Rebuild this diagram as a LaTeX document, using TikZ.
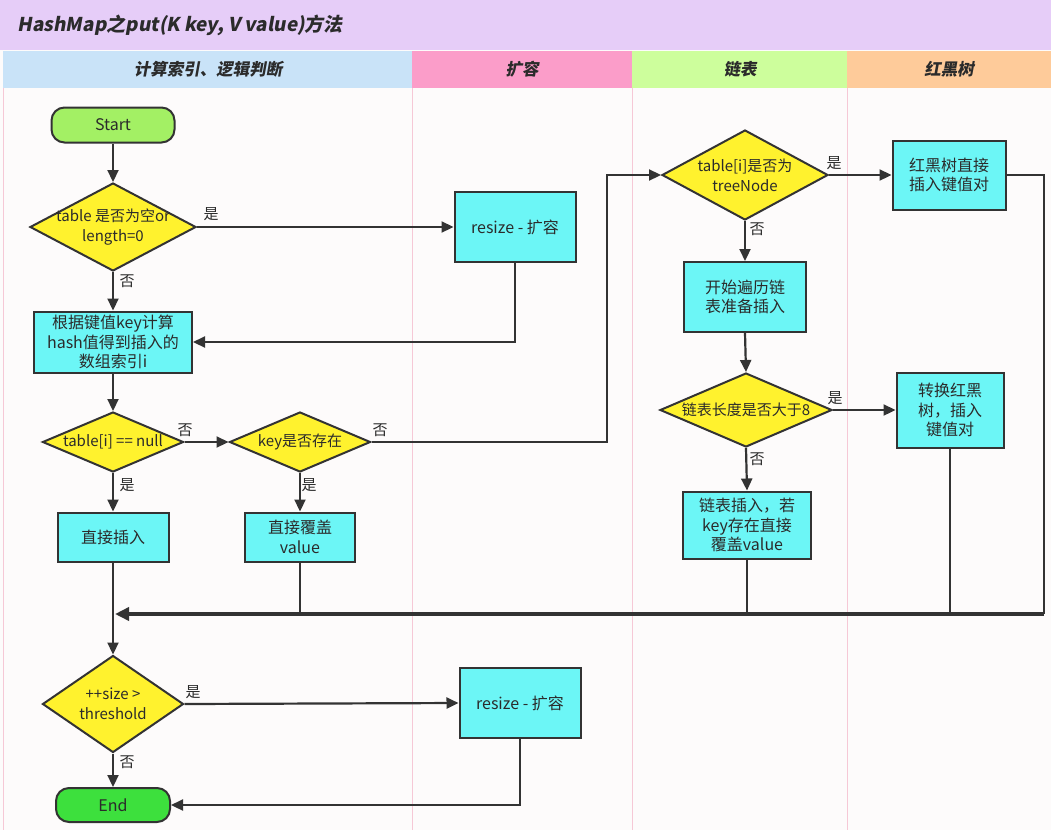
\documentclass[tikz,border=0pt]{standalone}
\usepackage{fontspec}
\setmainfont{Noto Sans CJK SC}
\newfontfamily\slfont{Noto Sans CJK SC}[FakeSlant=0.18]
\usetikzlibrary{shapes.geometric,arrows.meta}
\definecolor{pagebg}{HTML}{FDFBFB}
\definecolor{titlebg}{HTML}{E6CDF8}
\definecolor{hA}{HTML}{C9E3F8}
\definecolor{hB}{HTML}{FB9DC9}
\definecolor{hC}{HTML}{CDFE9C}
\definecolor{hD}{HTML}{FECB9A}
\definecolor{boxc}{HTML}{6CF6F6}
\definecolor{diac}{HTML}{FFF22E}
\definecolor{startc}{HTML}{A3F064}
\definecolor{endc}{HTML}{3DE03D}
\definecolor{linec}{HTML}{333333}
\definecolor{lanec}{HTML}{F6C8D6}
\definecolor{txtc}{HTML}{2B2B2B}
\begin{document}
\begin{tikzpicture}[x=1pt,y=-1pt,
  ntext/.style={font=\fontsize{16}{19.5}\selectfont, text=txtc, align=center},
  box/.style={draw=linec, line width=2pt, fill=boxc, inner sep=0pt, ntext},
  term/.style={draw=linec, line width=2pt, rounded corners=13pt, inner sep=0pt, ntext},
  dia/.style={diamond, draw=linec, line width=2pt, fill=diac, inner sep=0pt},
  dtext/.style={font=\fontsize{15}{20}\selectfont, text=txtc, align=center, inner sep=0pt},
  arr/.style={draw=linec, line width=2.2pt, -{Triangle[length=12pt,width=11pt]}},
  ln/.style={draw=linec, line width=2.2pt},
  lab/.style={font=\fontsize{15}{17}\selectfont, text=txtc, inner sep=0pt},
  head/.style={font=\slfont\bfseries\fontsize{16.5}{19}\selectfont, text=txtc},
  lane/.style={draw=lanec, line width=1pt}]
\useasboundingbox (0,0) rectangle (1051,830);
\fill[pagebg] (0,0) rectangle (1051,830);
% title and headers
\fill[titlebg] (0,0) rectangle (1051,50);
\node[anchor=west, font=\slfont\bfseries\fontsize{19}{21}\selectfont, text=txtc] (title) at (14,25) {HashMap之put(K key, V value)方法};
\fill[hA] (3,51) rectangle (412,88);
\fill[hB] (412,51) rectangle (632,88);
\fill[hC] (632,51) rectangle (847,88);
\fill[hD] (847,51) rectangle (1051,88);
\node[head] (hda) at (208,69) {计算索引、逻辑判断};
\node[head] (hdb) at (522,69) {扩容};
\node[head] (hdc) at (740,69) {链表};
\node[head] (hdd) at (949,69) {红黑树};
\draw[lane] (3,88) -- (3,830);
\draw[lane] (412,88) -- (412,830);
\draw[lane] (632,88) -- (632,830);
\draw[lane] (847,88) -- (847,830);
% nodes
\node[term, fill=startc, minimum width=123pt, minimum height=35pt] (start) at (113,125) {Start};
\node[dia, minimum width=166pt, minimum height=88pt, label={[dtext]center:{table 是否为空or\\length=0}}] (d1) at (113,227) {};
\node[box, minimum width=121pt, minimum height=70pt] (rs1) at (515,227) {resize - 扩容};
\node[box, minimum width=158pt, minimum height=61pt] (hash) at (113,342) {根据键值key计算\\hash值得到插入的\\数组索引i};
\node[dia, minimum width=141pt, minimum height=60pt, label={[dtext]center:{table[i] == null}}] (d2) at (113,442) {};
\node[dia, minimum width=141pt, minimum height=60pt, label={[dtext]center:{key是否存在}}] (d3) at (300,442) {};
\node[box, minimum width=111pt, minimum height=49pt] (zj) at (113,537) {直接插入};
\node[box, minimum width=110pt, minimum height=49pt] (fg) at (300,537) {直接覆盖\\value};
\node[dia, minimum width=166pt, minimum height=90pt, label={[dtext]center:{table[i]是否为\\treeNode}}] (d4) at (745,175) {};
\node[box, minimum width=113pt, minimum height=69pt] (rb1) at (949,175) {红黑树直接\\插入键值对};
\node[box, minimum width=122pt, minimum height=70pt] (bl) at (745,297) {开始遍历链\\表准备插入};
\node[dia, minimum width=172pt, minimum height=74pt, label={[dtext]center:{链表长度是否大于8}}] (d6) at (746,410) {};
\node[box, minimum width=107pt, minimum height=75pt] (cv) at (950,410) {转换红黑\\树，插入\\键值对};
\node[box, minimum width=128pt, minimum height=67pt] (li) at (747,525) {链表插入，若\\key存在直接\\覆盖value};
\node[dia, minimum width=141pt, minimum height=97pt, label={[dtext]center:{++size >\\threshold}}] (d5) at (113,704) {};
\node[box, minimum width=121pt, minimum height=70pt] (rs2) at (520,703) {resize - 扩容};
\node[term, fill=endc, minimum width=114pt, minimum height=34pt] (end) at (113,805) {End};
\coordinate (merge) at (115,614);
\coordinate (loopa) at (607,442);
\coordinate (loopb) at (1044,175);
\coordinate (loopc) at (1044,614);
% connectors
\draw[arr] (start) -- (d1);
\draw[arr] (d1.east) -- (rs1.west);
\draw[arr] (d1.south) -- (hash.north);
\draw[arr] (rs1.south) |- (hash.east);
\draw[arr] (hash.south) -- (d2.north);
\draw[arr] (d2.east) -- (d3.west);
\draw[arr] (d3.east) -- (loopa) |- (d4.west);
\draw[arr] (d4.east) -- (rb1.west);
\draw[arr] (d4.south) -- (bl.north);
\draw[arr] (bl.south) -- (d6.north);
\draw[arr] (d6.east) -- (cv.west);
\draw[arr] (d6.south) -- (li.north);
\draw[arr] (d2.south) -- (zj.north);
\draw[arr] (d3.south) -- (fg.north);
\draw[arr] (zj.south) -- (d5.north);
\draw[ln] (fg.south) -- (fg.south |- merge);
\draw[ln] (li.south) -- (li.south |- merge);
\draw[ln] (cv.south) -- (cv.south |- merge);
\draw[draw=linec, line width=2.2pt] (rb1.east) -- (loopb) -- (loopc);
\draw[draw=linec, line width=4pt, -{Triangle[length=14pt,width=13pt]}] (loopc) -- (merge);
\draw[arr] (d5.east) -- (rs2.west);
\draw[arr] (d5.south) -- (end.north);
\draw[arr] (rs2.south) |- (end.east);
% labels
\node[lab] (l1) at (211,214) {是};
\node[lab] (l2) at (127,281) {否};
\node[lab] (l3) at (185,430) {否};
\node[lab] (l4) at (380,430) {否};
\node[lab] (l5) at (127,485) {是};
\node[lab] (l6) at (309,485) {是};
\node[lab] (l7) at (834,163) {是};
\node[lab] (l8) at (757,229) {否};
\node[lab] (l9) at (835,398) {是};
\node[lab] (l10) at (757,459) {否};
\node[lab] (l11) at (193,692) {是};
\node[lab] (l12) at (127,762) {否};
\end{tikzpicture}
\end{document}
